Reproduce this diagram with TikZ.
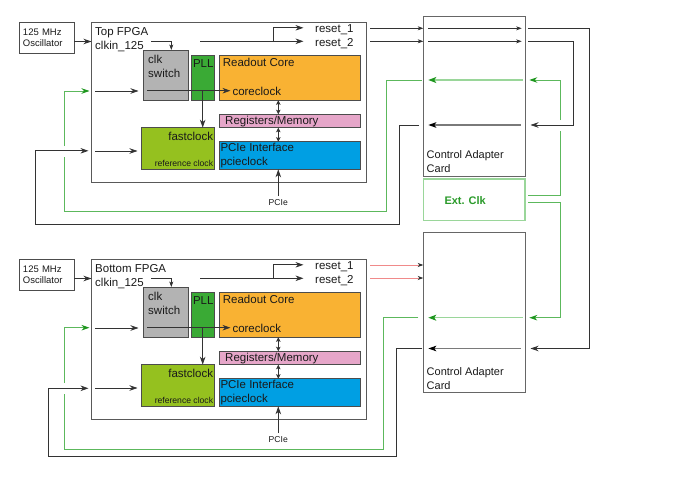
\documentclass[tikz,border=0pt]{standalone}
\usepackage{fontspec}
\setmainfont{Liberation Sans}
\usetikzlibrary{arrows.meta}
\definecolor{cswc}{HTML}{B3B3B3}
\definecolor{pllc}{HTML}{3AAA35}
\definecolor{rcc}{HTML}{F9B233}
\definecolor{regc}{HTML}{E6A6C9}
\definecolor{pciec}{HTML}{009FE3}
\definecolor{fcc}{HTML}{95C11F}
\definecolor{gline}{HTML}{5CB85C}
\definecolor{glight}{HTML}{9AD69A}
\definecolor{ghead}{HTML}{1E961E}
\definecolor{dline}{HTML}{333333}
\definecolor{grayline}{HTML}{7A7A7A}
\definecolor{redline}{HTML}{F08A8A}
\definecolor{extg}{HTML}{2A9A2A}
\definecolor{txtc}{HTML}{1A1A1A}
\tikzset{
  box/.style={draw=black!70, line width=0.9pt, anchor=north west, inner sep=0pt, outer sep=0pt},
  lbl/.style={anchor=base west, inner sep=0pt, text=txtc, font=\fontsize{11.5}{13}\selectfont},
  lblr/.style={anchor=base east, inner sep=0pt, text=txtc, font=\fontsize{11.5}{13}\selectfont},
  tinylbl/.style={inner sep=0pt, text=txtc, font=\fontsize{8.6}{10}\selectfont},
  conn/.style={line width=0.8pt, draw=dline, -{Stealth[length=8pt,width=5.5pt,inset=2.5pt]}},
  sconn/.style={line width=0.7pt, draw=dline, -{Stealth[length=5.5pt,width=4pt,inset=1.5pt]}},
  dconn/.style={line width=0.7pt, draw=dline, {Stealth[length=4.5pt,width=4.5pt,inset=1pt]}-{Stealth[length=4.5pt,width=4.5pt,inset=1pt]}},
  wire/.style={line width=0.8pt, draw=dline},
  gwire/.style={line width=0.9pt, draw=gline},
  gconn/.style={line width=0.9pt, draw=gline, -{Stealth[length=8pt,width=5.5pt,inset=2.5pt,color=ghead]}},
  giconn/.style={line width=1.1pt, draw=glight, -{Stealth[length=8pt,width=6pt,inset=2pt,color=ghead]}},
  kiconn/.style={line width=1.4pt, draw=grayline, -{Stealth[length=8pt,width=5.5pt,inset=2pt,color=black]}},
  rconn/.style={line width=0.8pt, draw=redline, -{Stealth[length=5.5pt,width=4pt,inset=1.5pt,color=dline]}},
}
\newcommand\fpgablock[3]{%
\begin{scope}[shift={(0,#3)}]
 \node[box, minimum width=55pt, minimum height=31.5pt, text width=47pt, align=left, inner xsep=4pt, text=txtc, font=\fontsize{9.5}{11.5}\selectfont] (#1osc) at (19,22) {125 MHz\\Oscillator};
 \node[box, draw=black!65, minimum width=274.5pt, minimum height=160pt] (#1fpga) at (91.5,22.5) {};
 \node[lbl] (#1title) at (95,35) {#2};
 \node[lbl] (#1clkin) at (95,49.5) {clkin\_125};
 \node[box, fill=cswc, minimum width=45pt, minimum height=50.3pt] (#1csw) at (143.3,50) {};
 \node[lbl] (#1cswa) at (148,63.3) {clk};
 \node[lbl] (#1cswb) at (148,77.3) {switch};
 \node[box, fill=pllc, minimum width=22.6pt, minimum height=45.3pt] (#1pll) at (191.7,55) {};
 \node[lbl] (#1pllt) at (192.8,67.5) {PLL};
 \node[box, fill=rcc, minimum width=141.7pt, minimum height=45.3pt] (#1rc) at (219,55) {};
 \node[lbl] (#1rct) at (222.7,66.5) {Readout Core};
 \node[lbl] (#1cc) at (232.3,95.8) {coreclock};
 \node[box, fill=regc, minimum width=141.7pt, minimum height=13.4pt] (#1reg) at (219,114.3) {};
 \node[lbl] (#1regt) at (225,124) {Registers/Memory};
 \node[box, fill=pciec, minimum width=141.7pt, minimum height=27.6pt] (#1pcie) at (219,141.7) {};
 \node[lbl] (#1pciet) at (220.3,151.8) {PCIe Interface};
 \node[lbl] (#1pciec) at (220.3,165.8) {pcieclock};
 \node[box, fill=fcc, minimum width=73pt, minimum height=41.6pt] (#1fc) at (141.3,127.7) {};
 \node[lblr] (#1fct) at (213.3,140.6) {fastclock};
 \node[tinylbl, anchor=base east] (#1ref) at (213.3,166.6) {reference clock};
 \node[tinylbl, anchor=base] (#1pcielbl) at (278.3,205) {PCIe};
 \node[lbl] (#1ra) at (315,32.3) {reset\_1};
 \node[lbl] (#1rb) at (315,46) {reset\_2};
 % coordinates
 \coordinate (#1oscout) at (74,41.5);
 \coordinate (#1ck) at (151,41.3);
 \coordinate (#1ckd) at (171.3,41.3);
 \coordinate (#1in1) at (95,91);
 \coordinate (#1in1e) at (138.5,91);
 \coordinate (#1in2) at (95,151);
 \coordinate (#1in2e) at (137.5,151);
 \coordinate (#1ccA) at (147,90.7);
 \coordinate (#1ccB) at (230.5,90.7);
 \coordinate (#1pllA) at (202.7,90.7);
 \coordinate (#1rst) at (200,41.3);
 \coordinate (#1rstbr) at (273.3,41.3);
 \coordinate (#1rste2) at (303.5,41.3);
 \coordinate (#1rste1) at (303.5,27.8);
 \coordinate (#1pcieA) at (278.3,196);
 % connectors
 \draw[conn] (#1oscout) -- (#1oscout -| #1fpga.west);
 \draw[sconn, line width=0.6pt] (#1ck) -- (#1ckd) -- (#1ckd |- #1csw.north);
 \draw[conn] (#1in1) -- (#1in1e);
 \draw[conn] (#1in2) -- (#1in2e);
 \draw[conn] (#1ccA) -- (#1ccB);
 \draw[conn] (#1pllA) -- (#1pllA |- #1fc.north);
 \draw[conn] (#1rst) -- (#1rste2);
 \draw[conn] (#1rstbr) |- (#1rste1);
 \draw[dconn] (#1rc.south -| #1pcielbl) -- (#1reg.north -| #1pcielbl);
 \draw[dconn] (#1reg.south -| #1pcielbl) -- (#1pcie.north -| #1pcielbl);
 \draw[conn] (#1pcieA) -- (#1pcie.south -| #1pcieA);
\end{scope}}
\begin{document}
\begin{tikzpicture}[x=1pt,y=-1pt]
\useasboundingbox (0,0) rectangle (678,479);
\fpgablock{t}{Top FPGA}{0}
\fpgablock{b}{Bottom FPGA}{237}
% control adapter cards and ext clk
\node[box, draw=black!60, line width=1pt, minimum width=101.7pt, minimum height=159.7pt] (tcard) at (423.3,16.3) {};
\node[lbl, font=\fontsize{11}{13}\selectfont] (tcardt1) at (426.5,158.5) {Control Adapter};
\node[lbl, font=\fontsize{11}{13}\selectfont] (tcardt2) at (426.5,172.5) {Card};
\node[box, draw=glight, line width=1.2pt, minimum width=101.7pt, minimum height=41.7pt] (ext) at (423.3,179) {};
\node[lbl, font=\fontsize{11}{13}\bfseries\selectfont, text=extg] (extt) at (444.3,204) {Ext. Clk};
\node[box, draw=black!60, line width=1pt, minimum width=101.7pt, minimum height=160pt] (bcard) at (423.3,232.3) {};
\node[lbl, font=\fontsize{11}{13}\selectfont] (bcardt1) at (426.5,375) {Control Adapter};
\node[lbl, font=\fontsize{11}{13}\selectfont] (bcardt2) at (426.5,389.5) {Card};
% reset outputs
\coordinate (to1) at (370,28.3);
\coordinate (to2) at (370,41.3);
\coordinate (bo1) at (370,265);
\coordinate (bo2) at (370,278);
\draw[sconn] (to1) -- (to1 -| tcard.west);
\draw[sconn] (to2) -- (to2 -| tcard.west);
\draw[rconn] (bo1) -- (bo1 -| bcard.west);
\draw[rconn] (bo2) -- (bo2 -| bcard.west);
% top card internal
\coordinate (ti1) at (428,28.3);
\coordinate (ti1e) at (521.7,28.3);
\coordinate (ti2) at (428,41.3);
\coordinate (ti2e) at (521.7,41.3);
\draw[sconn] (ti1) -- (ti1e);
\draw[sconn] (ti2) -- (ti2e);
\coordinate (tg) at (522.7,80);
\coordinate (tge) at (428.3,80);
\draw[giconn] (tg) -- (tge);
\coordinate (tk) at (520.5,125);
\coordinate (tke) at (428.3,125);
\draw[kiconn] (tk) -- (tke);
% bottom card internal
\coordinate (bg) at (522.7,317.7);
\coordinate (bge) at (428.3,317.7);
\draw[giconn] (bg) -- (bge);
\coordinate (bk) at (521,348.5);
\coordinate (bke) at (428.3,348.5);
\draw[kiconn] (bk) -- (bke);
% right side routes
\coordinate (r1) at (528.3,28.3);
\coordinate (r2) at (528.3,41.3);
\draw[conn] (r1) -- (589.3,28.3) -- (589.3,348.5) -- (530.5,348.5);
\draw[conn] (r2) -- (573.3,41.3) -- (573.3,125) -- (530.5,125);
\coordinate (e1) at (528.3,195);
\coordinate (e2) at (528.3,202);
\draw[gwire] (e1) -- (560.3,195) -- (560.3,131);
\draw[gconn] (560.3,120) -- (560.3,80) -- (529.3,80);
\draw[gconn] (e2) -- (560.3,202) -- (560.3,317.7) -- (529.3,317.7);
% left side routes, top
\coordinate (lg) at (421.7,80);
\draw[gwire] (lg) -- (386,80) -- (386,211) -- (64.3,211) -- (64.3,157);
\draw[gconn] (64.3,146) -- (64.3,91) -- (89.5,91);
\coordinate (lk) at (419,125);
\draw[conn] (lk) -- (399.3,125) -- (399.3,224.3) -- (35,224.3) -- (35,150.8) -- (88.5,150.8);
% left side routes, bottom
\coordinate (blg) at (418.3,317.7);
\draw[gwire] (blg) -- (383.3,317.7) -- (383.3,449.7) -- (64.3,449.7) -- (64.3,394);
\draw[gconn] (64.3,383) -- (64.3,327.7) -- (89.5,327.7);
\coordinate (blk) at (422.3,348.5);
\draw[conn] (blk) -- (396,348.5) -- (396,456.3) -- (48.3,456.3) -- (48.3,388.3) -- (88.5,388.3);
\end{tikzpicture}
\end{document}
